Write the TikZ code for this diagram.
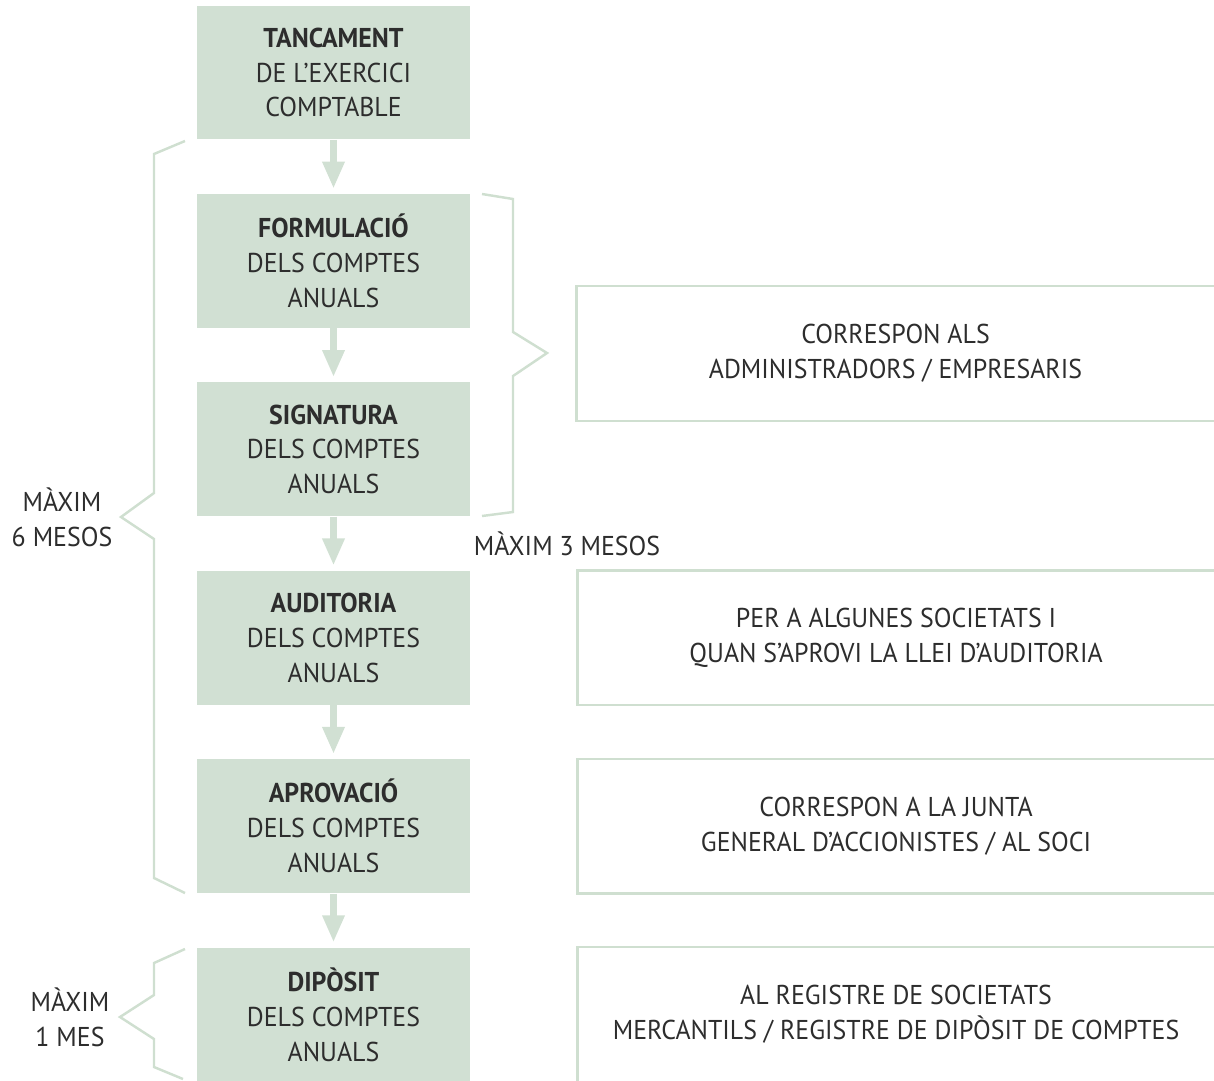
\documentclass[tikz,border=0pt]{standalone}
\usepackage{fontspec}
\setmainfont{PT Sans}[FakeStretch=0.95]
\usepackage{xcolor}
\usetikzlibrary{arrows.meta}
\usetikzlibrary{positioning}

\definecolor{sage}{RGB}{209,224,211}
\definecolor{sageline}{RGB}{207,223,208}
\definecolor{inkgrey}{RGB}{45,45,45}

\tikzset{
	stage/.style={fill=sage, text=inkgrey, minimum width=5.46cm, minimum height=2.68cm, align=center, inner sep=0pt},
	note/.style={text=inkgrey, minimum width=12.74cm, minimum height=2.68cm, align=center, inner sep=0pt},
	flow/.style={draw=sage, line width=0.13cm, -{Triangle[width=0.42cm, length=0.54cm]}, shorten >=0.1cm},
	bracket/.style={draw=sageline, line width=1.4pt, line join=miter},
	tag/.style={text=inkgrey, align=center}
}

\begin{document}
\begin{tikzpicture}[x=0.02cm, y=-0.02cm, font=\fontsize{15.5}{19.85}\selectfont, node distance=1.075cm]
	\useasboundingbox (0,0) rectangle (1214,1080);

	% steps
	\node[stage] (tancament) at (333.5,72.5) {\textbf{TANCAMENT}\\DE L’EXERCICI\\COMPTABLE};
	\node[stage, below=of tancament] (formulacio) {\textbf{FORMULACIÓ}\\DELS COMPTES\\ANUALS};
	\node[stage, below=of formulacio] (signatura) {\textbf{SIGNATURA}\\DELS COMPTES\\ANUALS};
	\node[stage, below=of signatura] (auditoria) {\textbf{AUDITORIA}\\DELS COMPTES\\ANUALS};
	\node[stage, below=of auditoria] (aprovacio) {\textbf{APROVACIÓ}\\DELS COMPTES\\ANUALS};
	\node[stage, below=of aprovacio] (diposit) {\textbf{DIPÒSIT}\\DELS COMPTES\\ANUALS};

	\draw[flow] (tancament) -- (formulacio);
	\draw[flow] (formulacio) -- (signatura);
	\draw[flow] (signatura) -- (auditoria);
	\draw[flow] (auditoria) -- (aprovacio);
	\draw[flow] (aprovacio) -- (diposit);

	% notes on the right
	\node[note] (administradors) at (895.5,353.5) {CORRESPON ALS\\ADMINISTRADORS / EMPRESARIS};
	\node[note, right=2.14cm of auditoria] (societats) {PER A ALGUNES SOCIETATS I\\QUAN S’APROVI LA LLEI D’AUDITORIA};
	\node[note, right=2.14cm of aprovacio] (junta) {CORRESPON A LA JUNTA\\GENERAL D’ACCIONISTES / AL SOCI};
	\node[note, right=2.14cm of diposit] (registre) {AL REGISTRE DE SOCIETATS\\MERCANTILS / REGISTRE DE DIPÒSIT DE COMPTES};

	\foreach \n in {administradors, societats, junta, registre}
		\draw[bracket] (\n.north east) -- (\n.north west) -- (\n.south west) -- (\n.south east);

	% brackets
	\draw[bracket] (185,141) -- (154,154) -- (154,493) -- (121,517) -- (154,539) -- (154,878) -- (185,893);
	\draw[bracket] (482,194) -- (513,199) -- (513,332) -- (547,353) -- (513,376) -- (513,512) -- (482,516);
	\draw[bracket] (185,949) -- (154,963) -- (154,995) -- (120,1017) -- (154,1039) -- (154,1067) -- (183,1079);

	\node[tag] (sismesos) at (62,517.5) {MÀXIM\\6 MESOS};
	\node[tag] (tresmesos) at (567,544) {MÀXIM 3 MESOS};
	\node[tag] (unmes) at (70,1017.5) {MÀXIM\\1 MES};
\end{tikzpicture}
\end{document}
